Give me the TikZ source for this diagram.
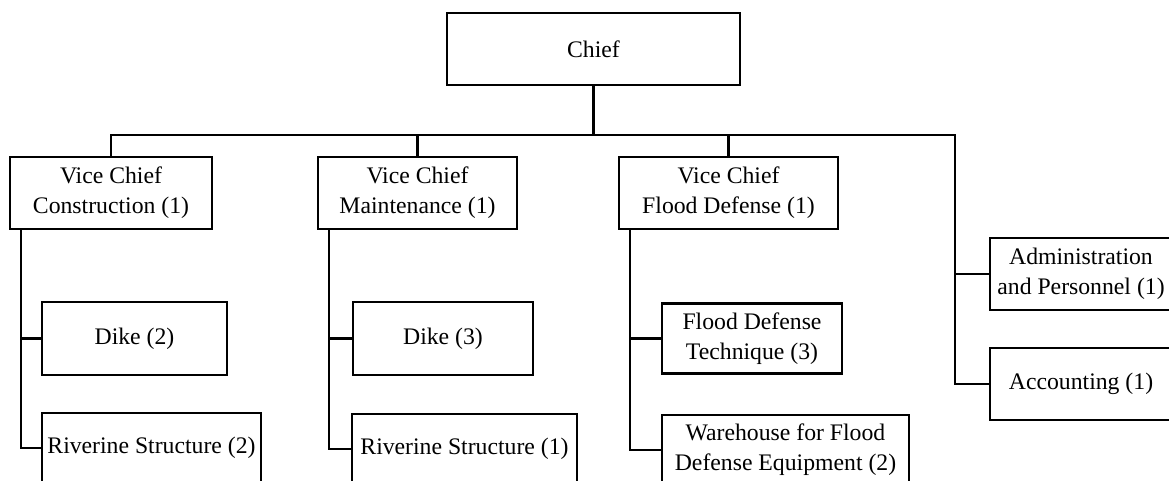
\documentclass[tikz,border=0pt]{standalone}
\usepackage{fontspec}
\setmainfont{Liberation Serif}

\tikzset{
  unit/.style={box/.style 2 args={draw,line width=1.3pt,align=center,inner sep=2pt,
    minimum width=##1*0.02cm,minimum height=##2*0.02cm,
    font=\fontsize{13.5}{17}\selectfont}},
  unit
}

\begin{document}
\begin{tikzpicture}[x=0.02cm,y=-0.02cm,line width=1.3pt]

\fill[white] (0,0) rectangle (1169,480);
\useasboundingbox (0,0) rectangle (1169,480);
\clip (0,0) rectangle (1169,480);

% top level
\node (chief) at (593.5,49) [box={293}{72}] {Chief};

% vice chiefs
\node (vcc) at (111,193) [box={202}{72}] {Vice Chief\\Construction (1)};
\node (vcm) at (417.5,193) [box={199}{72}] {Vice Chief\\Maintenance (1)};
\node (vcf) at (728.5,193) [box={219}{72}] {Vice Chief\\Flood Defense (1)};

% staff units
\node (admin) at (1081,274) [box={182}{72}] {Administration\\and Personnel (1)};
\node (acct) at (1081,384) [box={182}{72}] {Accounting (1)};

% sections
\node (dike2) at (134.5,338.5) [box={185}{73}] {Dike (2)};
\node (riv2) at (151.5,448) [box={219}{70}] {Riverine Structure (2)};

\node (dike3) at (443,338.5) [box={180}{73}] {Dike (3)};
\node (riv1) at (464.5,449) [box={225}{70}] {Riverine Structure (1)};

\node (fdt) at (752,338.5) [box={180}{70}] {Flood Defense\\Technique (3)};
\node (wh) at (785.5,450) [box={247}{70}] {Warehouse for Flood\\Defense Equipment (2)};

% bus
\coordinate (bus) at (593.5,135);
\coordinate (busR) at (955,135);
\draw (chief.south) -- (chief.south |- bus);
\draw (vcc.north) |- (busR) |- (acct.west);
\draw (vcm.north) -- (vcm.north |- bus);
\draw (vcf.north) -- (vcf.north |- bus);
\draw (admin.west) -- (admin.west -| busR);

% stems
\coordinate (vccstem) at ([xshift=0.24cm]vcc.south west);
\coordinate (vcmstem) at ([xshift=0.24cm]vcm.south west);
\coordinate (vcfstem) at ([xshift=0.24cm]vcf.south west);

\draw (vccstem) |- (riv2.west);
\draw (dike2.west) -- (dike2.west -| vccstem);

\draw (vcmstem) |- (riv1.west);
\draw (dike3.west) -- (dike3.west -| vcmstem);

\draw (vcfstem) |- (wh.west);
\draw (fdt.west) -- (fdt.west -| vcfstem);

\end{tikzpicture}
\end{document}
